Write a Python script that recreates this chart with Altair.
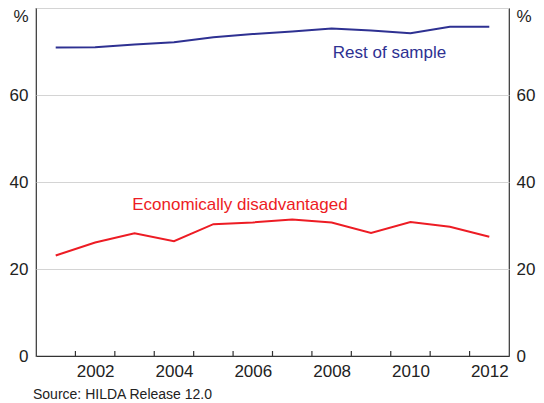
import altair as alt
import pandas as pd

years = list(range(2001, 2013))
rest_of_sample = [70.9, 71.0, 71.6, 72.1, 73.3, 74.0, 74.6, 75.3, 74.8, 74.2, 75.7, 75.7]
econ_disadv = [23.1, 26.1, 28.2, 26.4, 30.3, 30.7, 31.4, 30.7, 28.3, 30.8, 29.7, 27.4]
series_names = ["Rest of sample", "Economically disadvantaged"]
series_colors = ["#2e3192", "#ed1c24"]
x_labels = ["2002", "2004", "2006", "2008", "2010", "2012"]

label_text = ["Rest of sample", "Economically disadvantaged"]
label_x = [2008.03, 2002.94]
label_y = [69.6, 34.7]

rows = []
for y, a, b in zip(years, rest_of_sample, econ_disadv):
    rows.append({"year": y, "value": a, "series": series_names[0]})
    rows.append({"year": y, "value": b, "series": series_names[1]})
df = pd.DataFrame(rows)
labels_df = pd.DataFrame({"text": label_text, "x": label_x, "y": label_y, "series": series_names})
tick_df = pd.DataFrame({"year": [y + 0.5 for y in years[:-1]]})

FONT = "Liberation Sans"
H = 348
xscale = alt.Scale(domain=[2000.5, 2012.5], nice=False, zero=False)
yscale = alt.Scale(domain=[0, 80], nice=False)
color = alt.Color("series:N", scale=alt.Scale(domain=series_names, range=series_colors), legend=None)

x_axis = alt.Axis(
    values=[int(v) for v in x_labels],
    format="d", ticks=False, domainColor="#333333", domainWidth=1.2,
    labelFont=FONT, labelFontSize=17, labelColor="#222222", labelPadding=7,
    labelOverlap=False, labelFlush=False, grid=False, title=None,
)

y_left = alt.Axis(
    values=[0, 20, 40, 60, 80], orient="left",
    labelExpr="datum.value == 80 ? '%' : datum.label",
    labelBaseline=alt.ExprRef(expr="datum.value == 80 ? 'top' : 'middle'"),
    tickSize=0, domain=False, grid=True, gridColor="#d4d4d4", gridWidth=1.2,
    labelFont=FONT, labelFontSize=17, labelColor="#222222", labelPadding=8,
    labelFlush=False, labelOverlap=False, title=None,
)
y_right = alt.Axis(
    values=[0, 20, 40, 60, 80], orient="right",
    labelExpr="datum.value == 80 ? '%' : datum.label",
    labelBaseline=alt.ExprRef(expr="datum.value == 80 ? 'top' : 'middle'"),
    tickSize=0, domain=False, grid=False,
    labelFont=FONT, labelFontSize=17, labelColor="#222222", labelPadding=7,
    labelFlush=False, labelOverlap=False, title=None,
)

lines = alt.Chart(df).mark_line(strokeWidth=2).encode(
    x=alt.X("year:Q", scale=xscale, axis=x_axis),
    y=alt.Y("value:Q", scale=yscale, axis=y_left),
    color=color,
    detail="series:N",
)

lines_right = alt.Chart(df).mark_line(strokeWidth=0, opacity=0).encode(
    x=alt.X("year:Q", scale=xscale),
    y=alt.Y("value:Q", scale=yscale, axis=y_right),
    detail="series:N",
)

ticks = alt.Chart(tick_df).mark_rule(color="#333333", strokeWidth=1.2).encode(
    x=alt.X("year:Q", scale=xscale),
    y=alt.value(H),
    y2=alt.value(H - 5),
)

texts = alt.Chart(labels_df).mark_text(
    align="left", baseline="middle", font=FONT, fontSize=17
).encode(
    x=alt.X("x:Q", scale=xscale),
    y=alt.Y("y:Q", scale=yscale, axis=None),
    text="text:N",
    color=color,
)

chart = alt.layer(lines, lines_right, ticks, texts).resolve_axis(y="independent").properties(
    width=473, height=H,
    autosize=alt.AutoSizeParams(type="none"),
    padding={"left": 28, "top": 0, "right": 27, "bottom": 50},
    title=alt.TitleParams(
        "Source: HILDA Release 12.0", orient="bottom", anchor="start", frame="group",
        font=FONT, fontSize=14, fontWeight="normal", color="#222222", offset=9, dx=-3,
    ),
).configure_view(stroke="#333333", strokeWidth=1.2)

chart.save("out.html", embed_options={"renderer": "svg", "actions": False})
